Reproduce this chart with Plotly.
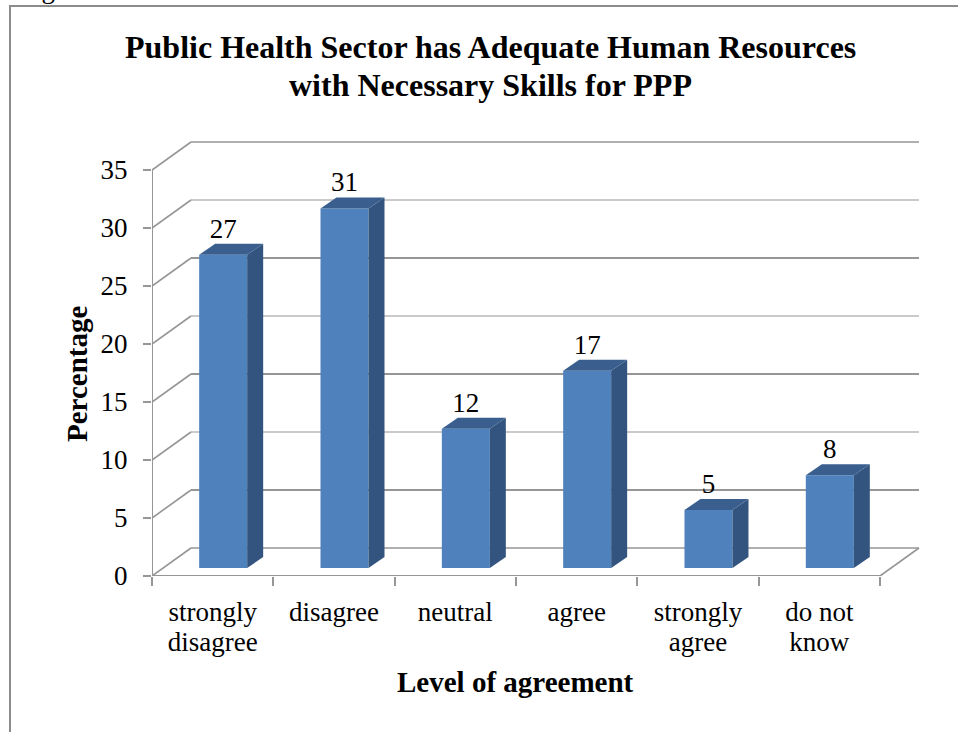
import plotly.graph_objects as go

LINE1 = ["strongly", "disagree", "neutral", "agree", "strongly", "do not"]
LINE2 = ["disagree", "", "", "", "agree", "know"]
VALUES = [27, 31, 12, 17, 5, 8]
Y_TICKS = [0, 5, 10, 15, 20, 25, 30, 35]
GRID_WIDTHS = [1.4, 1.8, 1.2, 1.8, 1.2, 2.2, 1.2, 1.6]

W, H = 958, 732
FONT = "Liberation Serif"
GRID = "#969696"
FRONT = "#4f81bd"
SIDE = "#32547f"
TOP = "#3a5f8f"

X0, X1 = 152, 921
Y_BOTTOM, Y_TOP = 576, 141
CAT_PX = 121.33
UNIT_PX = 11.6
xr = [-0.5, -0.5 + (X1 - X0) / CAT_PX]
yr = [0, (Y_BOTTOM - Y_TOP) / UNIT_PX]
WALL_DX, WALL_DY = 39 / CAT_PX, 28 / UNIT_PX
BAR_SHIFT = 10.5 / CAT_PX
BAR_W = 48 / CAT_PX
BAR_BASE = 8 / UNIT_PX
DEPTH_DX, DEPTH_DY = 16 / CAT_PX, 11 / UNIT_PX

fig = go.Figure()
n = len(LINE1)
xl, xm = -0.5, n - 0.5
shapes = []


def seg(x0, y0, x1, y1, width=1.6):
    shapes.append(dict(type="line", xref="x", yref="y", layer="below", x0=x0, y0=y0, x1=x1, y1=y1,
                       line=dict(color=GRID, width=width)))


for t, w in zip(Y_TICKS, GRID_WIDTHS):
    seg(xl, t, xl + WALL_DX, t + WALL_DY, 1.6)
    seg(xl + WALL_DX, t + WALL_DY, xm + WALL_DX, t + WALL_DY, w)
seg(xl, 0, xm, 0, 2.2)
seg(xm, 0, xm + WALL_DX, WALL_DY, 1.6)
seg(xl, 0, xl, 35, 2)

fig.add_trace(go.Bar(x=[i + BAR_SHIFT for i in range(n)], y=VALUES, base=BAR_BASE, width=BAR_W,
                     marker=dict(color=FRONT, line=dict(width=0)), showlegend=False))

for i, v in enumerate(VALUES):
    r = i + BAR_SHIFT + BAR_W / 2
    l = i + BAR_SHIFT - BAR_W / 2
    b, t = BAR_BASE, BAR_BASE + v
    fig.add_trace(go.Scatter(x=[r, r + DEPTH_DX, r + DEPTH_DX, r, r],
                             y=[b, b + DEPTH_DY, t + DEPTH_DY, t, b],
                             mode="lines", fill="toself", fillcolor=SIDE, line=dict(width=0),
                             hoverinfo="skip", showlegend=False))
    fig.add_trace(go.Scatter(x=[l, l + DEPTH_DX, r + DEPTH_DX, r, l],
                             y=[t, t + DEPTH_DY, t + DEPTH_DY, t, t],
                             mode="lines", fill="toself", fillcolor=TOP, line=dict(width=0),
                             hoverinfo="skip", showlegend=False))

fig.add_trace(go.Scatter(x=[i + BAR_SHIFT for i in range(n)], y=[v + BAR_BASE + 0.9 for v in VALUES],
                         mode="text", text=[str(v) for v in VALUES], textposition="top center",
                         textfont=dict(family=FONT, size=27, color="black"),
                         cliponaxis=False, hoverinfo="skip", showlegend=False))

# invisible trace so the second label row's axis is drawn
fig.add_trace(go.Scatter(x=[0], y=[0], xaxis="x2", mode="markers", marker=dict(opacity=0),
                         hoverinfo="skip", showlegend=False))

xdom = [X0 / W, X1 / W]
fig.update_layout(
    width=W, height=H, margin=dict(l=0, r=0, t=0, b=0, autoexpand=False), autosize=False,
    paper_bgcolor="white", plot_bgcolor="rgba(0,0,0,0)",
    font=dict(family=FONT, color="black"), showlegend=False,
    xaxis=dict(domain=xdom, range=xr, tickmode="array", tickvals=list(range(n)),
               ticktext=LINE1, ticks="", showgrid=False, zeroline=False, showline=False,
               tickfont=dict(family=FONT, size=27), ticklabelstandoff=17,
               minor=dict(tick0=-0.5, dtick=1, ticks="outside", ticklen=9, tickwidth=1.5,
                          tickcolor=GRID, showgrid=False)),
    xaxis2=dict(domain=xdom, range=xr, overlaying="x", anchor="y", side="bottom", tickmode="array",
                tickvals=list(range(n)), ticktext=LINE2, ticks="", showgrid=False, zeroline=False,
                showline=False, tickfont=dict(family=FONT, size=27), ticklabelstandoff=47),
    yaxis=dict(domain=[1 - Y_BOTTOM / H, 1 - Y_TOP / H], range=yr, tickmode="array", tickvals=Y_TICKS,
               ticks="outside", ticklen=8, tickwidth=1.5, tickcolor=GRID, showgrid=False,
               zeroline=False, showline=False, tickfont=dict(family=FONT, size=27),
               ticklabelstandoff=10),
    annotations=[
        dict(text="<b>Public Health Sector has Adequate Human Resources</b>",
             xref="paper", yref="paper", x=490 / W, y=1 - 47 / H, xanchor="center", yanchor="middle",
             showarrow=False, font=dict(family=FONT, size=32), align="center"),
        dict(text="<b>with Necessary Skills for PPP</b>",
             xref="paper", yref="paper", x=490 / W, y=1 - 85 / H, xanchor="center", yanchor="middle",
             showarrow=False, font=dict(family=FONT, size=32), align="center"),
        dict(text="<b>Percentage</b>", xref="paper", yref="paper", x=77 / W, y=1 - 374 / H,
             xanchor="center", yanchor="middle",
             textangle=-90, showarrow=False, font=dict(family=FONT, size=29)),
        dict(text="<b>Level of agreement</b>", xref="paper", yref="paper", x=515 / W, y=1 - 682 / H,
             xanchor="center", yanchor="middle", showarrow=False, font=dict(family=FONT, size=29)),
        dict(text="Fig", xref="paper", yref="paper", x=17 / W, y=1 - 6 / H, xanchor="left", yanchor="bottom",
             showarrow=False, font=dict(family=FONT, size=27)),
    ],
    shapes=shapes + [
        dict(type="line", xref="paper", yref="paper", x0=9 / W, x1=1, y0=1 - 6 / H, y1=1 - 6 / H,
             line=dict(color="#8c8c8c", width=2)),
        dict(type="line", xref="paper", yref="paper", x0=10 / W, x1=10 / W, y0=0, y1=1 - 6 / H,
             line=dict(color="#8c8c8c", width=2)),
    ],
)

fig.write_html("out.html", config=dict(displayModeBar=False, responsive=False),
               post_script="document.body.style.margin='0';")
